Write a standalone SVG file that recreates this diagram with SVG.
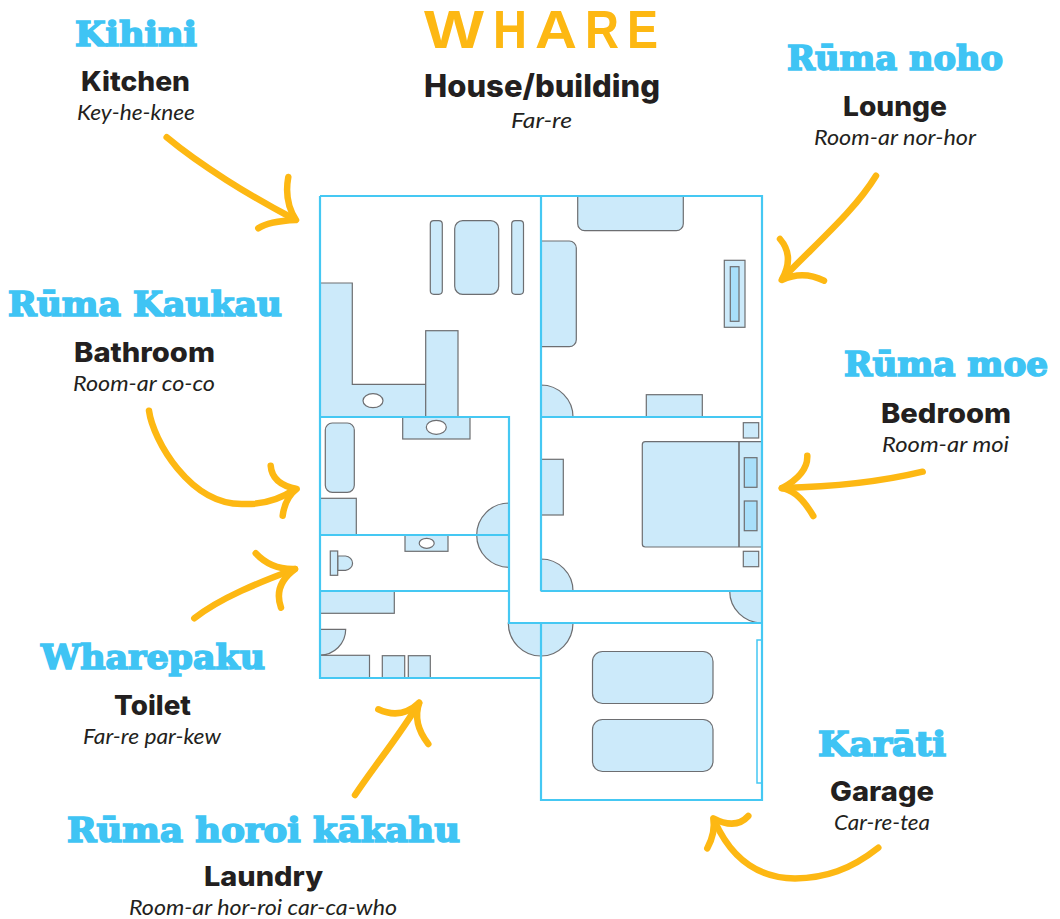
<svg xmlns="http://www.w3.org/2000/svg" width="1060" height="919" viewBox="0 0 1060 919">
<style>
.f{fill:#cceafa;stroke:#6d6e71;stroke-width:1.2}
.d{fill:#a8dffa;stroke:#6d6e71;stroke-width:1.2}
.h{fill:#fff;stroke:#6d6e71;stroke-width:1.2}
.w{fill:none;stroke:#45c8f3;stroke-width:2.2}
.a{fill:none;stroke:#fdb813;stroke-width:6.5;stroke-linecap:round;stroke-linejoin:round}
.m{font-family:"DejaVu Serif",serif;font-weight:700;font-size:33px;fill:#3fc4f4;stroke:#3fc4f4;stroke-width:1.7}
.e{font-family:Inter,"Liberation Sans",sans-serif;font-weight:800;font-size:27px;fill:#231f20}
.b{font-size:31px}
.i{font-family:Lato,"Open Sans",sans-serif;font-style:italic;font-size:22px;fill:#231f20}
.t{font-family:"Liberation Sans",sans-serif;font-weight:700;font-size:53px;fill:#fdb813}
</style>
<rect width="1060" height="919" fill="#fff"/>
<g id="kitchen-room">
<path class="f" d="M320,283H352.3V384.3H426V417H320Z"/>
<rect class="f" x="425.7" y="330.7" width="32.3" height="86.3"/>
<ellipse class="h" cx="373" cy="400.7" rx="10" ry="7"/>
<rect class="f" x="430.3" y="220.7" width="12" height="73.6" rx="3.5"/>
<rect class="f" x="454.7" y="220.7" width="44" height="73.6" rx="8"/>
<rect class="f" x="511.7" y="220.7" width="11.8" height="73.6" rx="3.5"/>
</g>
<g id="lounge-room">
<path class="f" d="M577.7,196H683.3V223.7A7,7 0 0 1 676.3,230.7H584.7A7,7 0 0 1 577.7,223.7Z"/>
<path class="f" d="M541,241H569.3A7,7 0 0 1 576.3,248V339.7A7,7 0 0 1 569.3,346.7H541Z"/>
<rect class="f" x="724.3" y="260.3" width="20.7" height="67"/>
<rect class="d" x="730.3" y="266.7" width="8.7" height="54.6"/>
<path class="f" d="M541,385A32,32 0 0 1 573,417H541Z"/>
<rect class="f" x="646.3" y="394.7" width="56" height="22.3"/>
</g>
<g id="bathroom-room">
<rect class="f" x="325.3" y="423" width="29" height="69.3" rx="7"/>
<rect class="f" x="320" y="498.3" width="36.3" height="36.7"/>
<rect class="f" x="402.7" y="417" width="67.3" height="22"/>
<ellipse class="h" cx="436.3" cy="427.3" rx="10" ry="7"/>
<path class="f" d="M509,503A32.3,32.3 0 0 0 476.7,535H509Z"/>
</g>
<g id="toilet-room">
<path class="f" d="M509,567.3A32.3,32.3 0 0 1 476.7,535H509Z"/>
<rect class="f" x="405" y="535" width="43" height="16.3"/>
<ellipse class="h" cx="426.7" cy="543.3" rx="7.5" ry="5"/>
<path class="f" d="M337.7,556H345.5A8,7.2 0 0 1 345.5,570.3H337.7Z"/>
<rect class="f" x="330.3" y="551" width="7.4" height="24.3"/>
</g>
<g id="laundry-room">
<rect class="f" x="320" y="591" width="74.3" height="22.3"/>
<path class="f" d="M320,629.3H345.7A25.7,25.7 0 0 1 320,655Z"/>
<rect class="f" x="320" y="655.3" width="49.5" height="22.7"/>
<rect class="f" x="382.3" y="655.7" width="22.4" height="22.3"/>
<rect class="f" x="408.3" y="655.7" width="22" height="22.3"/>
<path class="f" d="M508.3,623H541V656A32.7,33 0 0 1 508.3,623Z"/>
</g>
<g id="bedroom-room">
<rect class="f" x="743.3" y="422.7" width="15.4" height="15.3"/>
<rect class="f" x="743.3" y="551.3" width="15.4" height="15.4"/>
<path class="f" d="M645.3,441.7H762V547H645.3A3,3 0 0 1 642.3,544V444.7A3,3 0 0 1 645.3,441.7Z"/>
<path d="M739,441.7V547" fill="none" stroke="#6d6e71" stroke-width="1.6"/>
<rect class="d" x="744.3" y="457.7" width="12.7" height="29.6"/>
<rect class="d" x="744.3" y="501" width="12.7" height="29.7"/>
<rect class="f" x="541" y="459.3" width="22.3" height="55.7"/>
<path class="f" d="M541,559A32,32 0 0 1 573,591H541Z"/>
</g>
<g id="hall-door">
<path class="f" d="M729.7,591H762V623A32.3,32 0 0 1 729.7,591Z"/>
</g>
<g id="garage-room">
<path class="f" d="M541,623H573A32,33 0 0 1 541,656Z"/>
<rect class="f" x="592.5" y="651.5" width="120.5" height="52" rx="10"/>
<rect class="f" x="592.5" y="719.5" width="120.5" height="52" rx="10"/>
<rect x="757" y="640" width="5" height="143" fill="#fff" stroke="#45c8f3" stroke-width="1.5"/>
</g>
<g id="walls">
<path class="w" d="M320,196H762V800H541V623M541,591V196M320,196V678H541M320,417H509V623H762M320,535H509M320,591H509M541,417H762M541,591H762"/>
</g>
<g id="connectors">
<path class="a" d="M166.7,137.3C200,165 250,196 294,219"/>
<path class="a" d="M288.3,177Q283.8,201.5 296,220Q268.8,221.2 258.3,228.3"/>
<path class="a" d="M876,175.7C855,210 820,240 783,278"/>
<path class="a" d="M780,239Q795,256.5 781.7,280Q803,270 824,280.7"/>
<path class="a" d="M922.7,471.7C880,482 830,487 782,488"/>
<path class="a" d="M807.3,455.7Q808,474 781.7,488.3Q798,490 813.3,516"/>
<path class="a" d="M149,410.7C153,440 190,505 243,504C265,505 282,498 295,489.3"/>
<path class="a" d="M270.7,465.7Q272,484 296.7,489Q285,497.7 282.7,515.7"/>
<path class="a" d="M194.3,618.3C220,598 260,582 295,569"/>
<path class="a" d="M255.7,553.3Q271.3,570 295,569Q273,585 281,607.7"/>
<path class="a" d="M355,795C375,765 400,735 419,703"/>
<path class="a" d="M378.3,709.3Q401.2,720 419.3,702.7Q412,723.2 428.3,744"/>
<path class="a" d="M878.3,847.7C850,870 825,878 795,878.5C755,878 730,855 715,822"/>
<path class="a" d="M748.3,816Q735.8,830 713.3,818.3Q715.7,832.7 707.3,848.3"/>
</g>
<g id="title">
<text class="t" y="48"><tspan x="424" textLength="60" lengthAdjust="spacingAndGlyphs">W</tspan><tspan x="493" textLength="34" lengthAdjust="spacingAndGlyphs">H</tspan><tspan x="535" textLength="42" lengthAdjust="spacingAndGlyphs">A</tspan><tspan x="585" textLength="34" lengthAdjust="spacingAndGlyphs">R</tspan><tspan x="627" textLength="31" lengthAdjust="spacingAndGlyphs">E</tspan></text>
<text class="e b" x="424" y="97" textLength="236" lengthAdjust="spacingAndGlyphs">House/building</text>
<text class="i" x="511" y="128" textLength="61" lengthAdjust="spacingAndGlyphs">Far-re</text>
</g>
<g id="kihini">
<text class="m" x="75" y="46" textLength="122" lengthAdjust="spacingAndGlyphs">Kihini</text>
<text class="e" x="81" y="91" textLength="109" lengthAdjust="spacingAndGlyphs">Kitchen</text>
<text class="i" x="77" y="120" textLength="118" lengthAdjust="spacingAndGlyphs">Key-he-knee</text>
</g>
<g id="ruma-noho">
<text class="m" x="787" y="70" textLength="216" lengthAdjust="spacingAndGlyphs">Rūma noho</text>
<text class="e" x="843" y="116" textLength="104" lengthAdjust="spacingAndGlyphs">Lounge</text>
<text class="i" x="814" y="145" textLength="162" lengthAdjust="spacingAndGlyphs">Room-ar nor-hor</text>
</g>
<g id="ruma-kaukau">
<text class="m" x="8" y="316" textLength="274" lengthAdjust="spacingAndGlyphs">Rūma Kaukau</text>
<text class="e" x="74" y="362" textLength="141" lengthAdjust="spacingAndGlyphs">Bathroom</text>
<text class="i" x="73" y="391" textLength="142" lengthAdjust="spacingAndGlyphs">Room-ar co-co</text>
</g>
<g id="ruma-moe">
<text class="m" x="844" y="376" textLength="204" lengthAdjust="spacingAndGlyphs">Rūma moe</text>
<text class="e" x="881" y="423" textLength="130" lengthAdjust="spacingAndGlyphs">Bedroom</text>
<text class="i" x="882" y="452" textLength="127" lengthAdjust="spacingAndGlyphs">Room-ar moi</text>
</g>
<g id="wharepaku">
<text class="m" x="41" y="669" textLength="224" lengthAdjust="spacingAndGlyphs">Wharepaku</text>
<text class="e" x="114" y="715" textLength="77" lengthAdjust="spacingAndGlyphs">Toilet</text>
<text class="i" x="83" y="744" textLength="138" lengthAdjust="spacingAndGlyphs">Far-re par-kew</text>
</g>
<g id="ruma-horoi-kakahu">
<text class="m" x="67" y="842" textLength="393" lengthAdjust="spacingAndGlyphs">Rūma horoi kākahu</text>
<text class="e" x="204" y="886" textLength="119" lengthAdjust="spacingAndGlyphs">Laundry</text>
<text class="i" x="129" y="915" textLength="268" lengthAdjust="spacingAndGlyphs">Room-ar hor-roi car-ca-who</text>
</g>
<g id="karati">
<text class="m" x="818" y="756" textLength="128" lengthAdjust="spacingAndGlyphs">Karāti</text>
<text class="e" x="830" y="801" textLength="104" lengthAdjust="spacingAndGlyphs">Garage</text>
<text class="i" x="834" y="830" textLength="96" lengthAdjust="spacingAndGlyphs">Car-re-tea</text>
</g>
</svg>
